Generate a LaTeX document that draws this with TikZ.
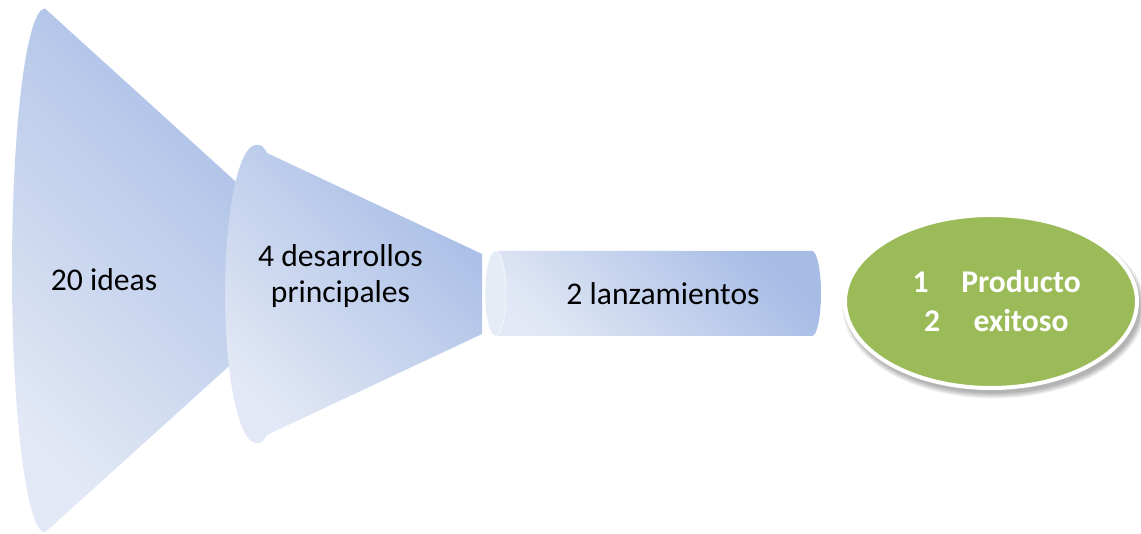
\documentclass[tikz,border=0pt]{standalone}
\usepackage{fontspec}
\setmainfont{Carlito}
\usetikzlibrary{shapes.geometric}
\definecolor{fdark}{HTML}{A6BCE5}
\definecolor{flight}{HTML}{E2E8F5}
\definecolor{capcol}{HTML}{E6ECF6}
\definecolor{okgreen}{HTML}{9BBB59}
\tikzset{
  funnelpart/.style={top color=fdark, bottom color=flight, shading angle=-45, draw=none},
  lbl/.style={font=\fontsize{31.6}{38}\selectfont, text=black, inner sep=0pt, anchor=base},
  wlbl/.style={font=\fontsize{31.6}{38}\selectfont\bfseries, text=white, inner sep=0pt, anchor=base}
}
\begin{document}
\begin{tikzpicture}[x=1pt,y=1pt]
\useasboundingbox (0,0) rectangle (1141,534);
% big cone
\path[funnelpart] (45,525.5) arc[start angle=90,end angle=270,x radius=33,y radius=262]
  -- (300,232) -- (300,294) -- cycle;
% second cone
\path[funnelpart] (256,389) arc[start angle=90,end angle=270,x radius=31,y radius=149]
  .. controls (262,91) .. (267,99) -- (482,200) -- (482,280) -- (267,381)
  .. controls (262,389) .. cycle;
% cylinder body
\path[funnelpart] (495.5,283) -- (812,283) arc[start angle=90,end angle=-90,x radius=9,y radius=42.5]
  -- (495.5,198) arc[start angle=270,end angle=90,x radius=10.5,y radius=42.5] -- cycle;
% cylinder cap
\path[fill=capcol, draw=white, line width=0.4pt] (495.5,240.5) ellipse[x radius=10.5, y radius=42.5];
% green ellipse shadow
\foreach \i in {0,...,7}{
  \fill[black, opacity=0.045] (994,227) ellipse[x radius=146+\i*0.8, y radius=86+\i*0.8];
}
\node[draw=white, line width=4pt, fill=okgreen, ellipse, inner sep=0pt, minimum width=292pt, minimum height=173pt] (succ) at (991,232.5) {};
% labels
\node[lbl] (t1) at (104,243) {20 ideas};
\node[lbl] (t2a) at (340.5,267) {4 desarrollos};
\node[lbl] (t2b) at (340.5,231) {principales};
\node[lbl] (t3) at (663,229) {2 lanzamientos};
\node[wlbl] (n1) at (920.5,241) {1};
\node[wlbl] (w1) at (1021,241) {Producto};
\node[wlbl] (n2) at (932,202) {2};
\node[wlbl] (w2) at (1021,202) {exitoso};
\end{tikzpicture}
\end{document}
